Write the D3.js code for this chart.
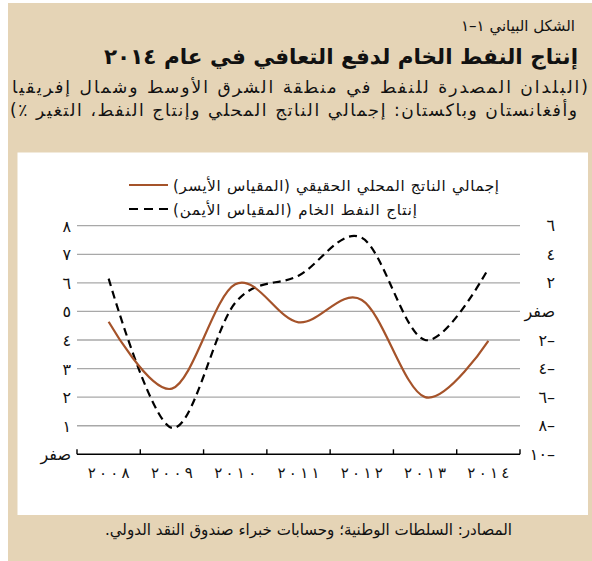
<!DOCTYPE html>
<html><head><meta charset="utf-8">
<script src="https://cdn.jsdelivr.net/npm/d3@7"></script>
<style>
html,body{margin:0;padding:0;background:#fff;}
svg{display:block;}
text{font-family:"DejaVu Sans",sans-serif;fill:#111;}
</style></head>
<body>
<svg id="chart" width="592" height="561"></svg>
<script>
// ---- data ----
const years = [2008, 2009, 2010, 2011, 2012, 2013, 2014];
const gdpGrowth = [4.64, 2.3, 5.95, 4.62, 5.4, 2.0, 3.97];      // left scale
const oilProduction = [2.3, -8.15, 0.6, 2.5, 5.15, -2.0, 3.0];  // right scale
const leftTicks = [0, 1, 2, 3, 4, 5, 6, 7, 8];
const rightTicks = [-10, -8, -6, -4, -2, 0, 2, 4, 6];
const figLabel = "الشكل البياني ١–١";
const title = "إنتاج النفط الخام لدفع التعافي في عام ٢٠١٤";
const subtitle1 = "(البلدان المصدرة للنفط في منطقة الشرق الأوسط وشمال إفريقيا";
const subtitle2 = "وأفغانستان وباكستان: إجمالي الناتج المحلي وإنتاج النفط، التغير ٪)";
const legendGdp = "إجمالي الناتج المحلي الحقيقي (المقياس الأيسر)";
const legendOil = "إنتاج النفط الخام (المقياس الأيمن)";
const source = "المصادر: السلطات الوطنية؛ وحسابات خبراء صندوق النقد الدولي.";

const arDigits = "٠١٢٣٤٥٦٧٨٩";
const toAr = n => String(n).replace(/[0-9]/g, d => arDigits[+d]);
const fmtTick = v => v === 0 ? "صفر" : (v < 0 ? "–" + toAr(-v) : toAr(v));

const svg = d3.select("#chart");
const beige = "#e5d4b6";

// frame
svg.append("rect").attr("x", 8).attr("y", 3).attr("width", 584).attr("height", 558).attr("fill", beige);
svg.append("rect").attr("x", 17.5).attr("y", 152.5).attr("width", 570.5).attr("height", 362.5).attr("fill", "#fff");

// RTL text, optionally fitted to a width
function rtlText(str, xRight, y, size, width, weight) {
  const t = svg.append("text")
    .attr("x", xRight).attr("y", y)
    .attr("direction", "rtl").style("direction", "rtl")
    .attr("text-anchor", "start")
    .attr("font-size", size)
    .attr("font-weight", weight || "normal")
    .text(str);
  if (width) {
    const nat = t.node().getComputedTextLength();
    if (nat > width * 1.06) {
      t.attr("font-size", size * width / nat * 1.06);
      t.attr("textLength", width).attr("lengthAdjust", "spacingAndGlyphs");
    } else {
      t.attr("textLength", width).attr("lengthAdjust", nat > width ? "spacingAndGlyphs" : "spacing");
    }
  }
  return t;
}
rtlText(figLabel, 575, 31, 15);
rtlText(title, 578, 64, 21.5, null, "bold");
rtlText(subtitle1, 588, 93, 17, 576);
rtlText(subtitle2, 577, 116, 17, 567);
rtlText(source, 512, 535, 15.5, 407);

// scales
const x = d3.scaleBand().domain(years).range([77, 520]).padding(0);
const xc = d => x(d) + x.bandwidth() / 2;
const yL = d3.scaleLinear().domain([0, 8]).range([454.3, 225.7]);
const yR = d3.scaleLinear().domain([-10, 6]).range([454.3, 225.7]);

// gridlines
svg.append("g").selectAll("line").data(leftTicks.filter(v => v > 0)).join("line")
  .attr("x1", 77).attr("x2", 520)
  .attr("y1", d => yL(d)).attr("y2", d => yL(d))
  .attr("stroke", "#a8a8a8").attr("stroke-width", 1.3);

// x axis
const xAxis = d3.axisBottom(x).tickSize(0).tickFormat(d => toAr(d));
const gx = svg.append("g").attr("transform", `translate(0,${yL(0)})`).call(xAxis);
gx.select(".domain").remove();
gx.selectAll("text").attr("font-size", 15).attr("fill", "#111")
  .attr("dy", null).attr("y", 19).attr("dominant-baseline", "central")
  .attr("textLength", 42).attr("lengthAdjust", "spacing")
  .attr("font-family", "DejaVu Sans");
svg.append("line").attr("x1", 77).attr("x2", 520).attr("y1", yL(0)).attr("y2", yL(0))
  .attr("stroke", "#000").attr("stroke-width", 1.6);
const bounds = years.map(d => x(d)).concat([520]);
svg.append("g").selectAll("line").data(bounds).join("line")
  .attr("x1", d => d).attr("x2", d => d)
  .attr("y1", yL(0)).attr("y2", yL(0) - 5)
  .attr("stroke", "#000").attr("stroke-width", 1.4);

// left axis
const gl = svg.append("g").attr("transform", "translate(71,0)")
  .call(d3.axisLeft(yL).tickValues(leftTicks).tickSize(0).tickPadding(0).tickFormat(fmtTick));
gl.select(".domain").remove();
gl.selectAll("text").attr("font-size", 16).attr("fill", "#111").attr("dy", null)
  .attr("dominant-baseline", "central").attr("font-family", "DejaVu Sans");

// right axis (RTL labels)
svg.append("g").selectAll("text").data(rightTicks).join("text")
  .attr("x", 555).attr("y", d => yR(d))
  .attr("direction", "rtl").style("direction", "rtl")
  .attr("text-anchor", "start").attr("dominant-baseline", "central")
  .attr("font-size", 16)
  .text(fmtTick);

// lines
const curve = d3.curveCardinal.tension(0);
const lineL = d3.line().x((d, i) => xc(years[i])).y(d => yL(d)).curve(curve);
const lineR = d3.line().x((d, i) => xc(years[i])).y(d => yR(d)).curve(curve);
svg.append("path").attr("d", lineR(oilProduction)).attr("fill", "none")
  .attr("stroke", "#000").attr("stroke-width", 2.2).attr("stroke-dasharray", "8,5");
svg.append("path").attr("d", lineL(gdpGrowth)).attr("fill", "none")
  .attr("stroke", "#a5532a").attr("stroke-width", 2.2);

// legend
svg.append("line").attr("x1", 129).attr("x2", 168).attr("y1", 185).attr("y2", 185)
  .attr("stroke", "#a5532a").attr("stroke-width", 2.2);
svg.append("line").attr("x1", 129).attr("x2", 168).attr("y1", 209).attr("y2", 209)
  .attr("stroke", "#000").attr("stroke-width", 2.2).attr("stroke-dasharray", "9,6");
rtlText(legendGdp, 499, 191, 15, 326);
rtlText(legendOil, 417, 215, 15, 244);
</script>
</body></html>
